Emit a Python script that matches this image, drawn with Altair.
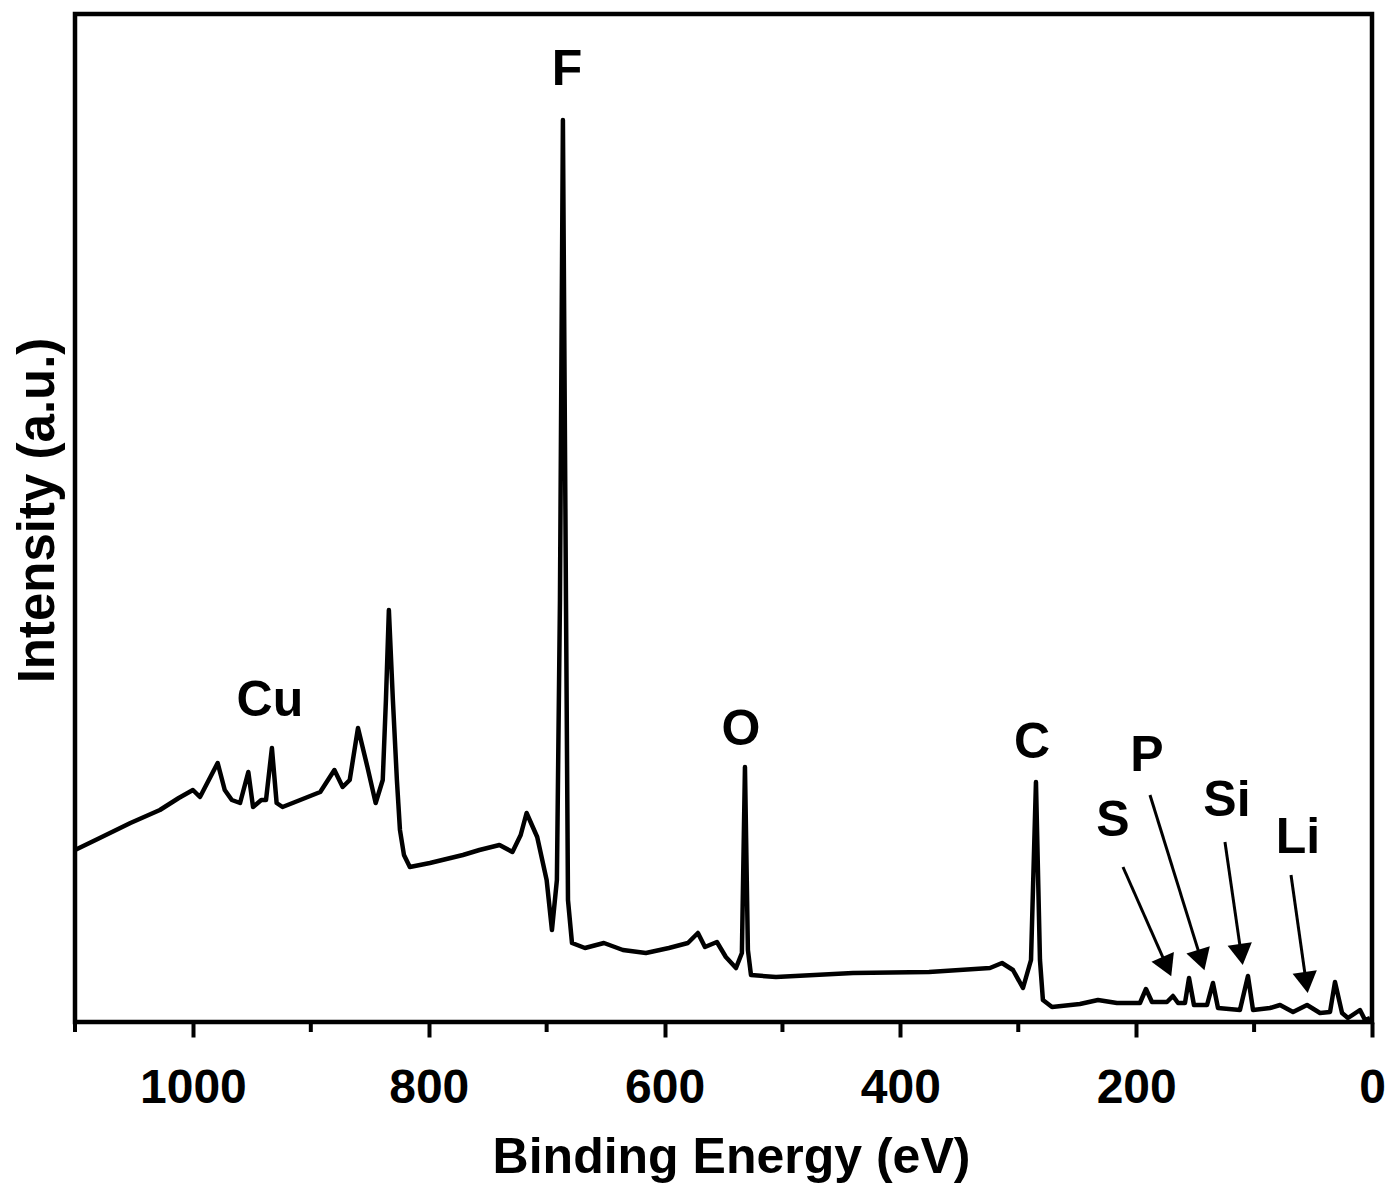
import altair as alt
import pandas as pd

# XPS survey spectrum (binding energy in eV, intensity in a.u.)
energy = [1100, 1079, 1053, 1028, 1012, 1000, 994, 979, 973, 967, 960, 953, 949, 942, 938, 933, 929, 924,
          909, 892, 880, 873, 867, 860, 852, 845, 839, 836.3, 833.8, 830.4, 827, 824.4, 821, 816, 799, 771,
          757, 740, 729, 722, 717, 708, 700, 695.5, 691.3, 688.7, 686.2, 683.6, 681.9, 678.5, 667.5, 651.4,
          635.3, 615.8, 596.3, 580.2, 571.7, 565.7, 555.6, 548, 539.4, 534.4, 531.8, 529.3, 526.7, 505.5,
          440.2, 375.7, 324, 313.8, 304.5, 296, 289.2, 285, 281.6, 279.1, 271.4, 247.7, 232.4, 216.3, 196.8,
          191.7, 186.6, 173.9, 168.8, 164.5, 158.6, 155.2, 151, 139.9, 134.9, 130.6, 112, 105.2, 100.9, 86.5,
          78, 67, 55.1, 44.1, 35.6, 31.4, 25.4, 20.4, 10.2, 5.9, 1.7]
intensity = [172, 184, 199, 212, 224, 232, 225, 259, 232, 222, 219, 250, 215, 222, 222, 274, 219, 215,
             222, 230, 252, 235, 242, 294, 255, 219, 242, 322, 412, 322, 242, 192, 167, 155, 159, 167,
             172, 177, 170, 187, 209, 185, 142, 92, 142, 422, 902, 422, 122, 79, 74, 79,
             72, 69, 74, 79, 89, 75, 80, 65, 54, 69, 255, 72, 47, 45,
             49, 50, 54, 59, 52, 34, 62, 240, 62, 22, 15, 18, 22, 19, 19,
             33, 20, 20, 26, 19, 19, 44, 17, 17, 39, 14, 12, 46, 12, 14,
             17, 10, 17, 9, 10, 40, 9, 4, 12, 2, 4]

# element labels
label_text = ["F", "Cu", "O", "C", "S", "P", "Si", "Li"]
label_energy = [682.8, 934.7, 535.2, 288.4, 219.7, 190.8, 123.0, 62.8]
label_intensity = [952, 321, 292, 279, 201, 266, 221, 184]

# arrows for the minor elements
arrow_start_energy = [211.2, 188.3, 124.7, 68.7]
arrow_start_intensity = [155, 227, 180, 147]
arrow_end_energy = [173.9, 144.8, 110.9, 55.8]
arrow_end_intensity = [55.4, 61.9, 67.4, 39.4]
arrow_angle = [156.2, 162.7, 171.8, 171.9]

major_ticks = [1000, 800, 600, 400, 200, 0]
minor_ticks = [1100, 900, 700, 500, 300, 100]

FONT = "Liberation Sans"

spec = pd.DataFrame({"E": energy, "I": intensity})
labels = pd.DataFrame({"t": label_text, "E": label_energy, "I": label_intensity})
arrows = pd.DataFrame({"E": arrow_start_energy, "I": arrow_start_intensity,
                       "E2": arrow_end_energy, "I2": arrow_end_intensity, "ang": arrow_angle})
minor = pd.DataFrame({"E": minor_ticks})

xscale = alt.Scale(domain=[0, 1100], reverse=True, nice=False, zero=False)
yscale = alt.Scale(domain=[0, 1008], nice=False, zero=False)

xaxis = alt.Axis(values=major_ticks, format="d", title="Binding Energy (eV)", grid=False, domain=False,
                 tickSize=15, tickWidth=4, tickColor="black",
                 labelFont=FONT, labelFontSize=48, labelFontWeight="bold", labelColor="black",
                 labelPadding=27, labelFlush=False,
                 titleFont=FONT, titleFontSize=50, titleFontWeight="bold", titleColor="black",
                 titleBaseline="alphabetic", titleY=150, titleX=656, titleAlign="center")
yaxis = alt.Axis(title="Intensity (a.u.)", labels=False, ticks=False, domain=False, grid=False,
                 titleFont=FONT, titleFontSize=51, titleFontWeight="bold", titleColor="black",
                 titleBaseline="alphabetic", titleX=-22, titleY=496, titleAlign="center", titleAngle=270)

line = alt.Chart(spec).mark_line(color="black", strokeWidth=4.5, strokeJoin="round").encode(
    x=alt.X("E:Q", scale=xscale, axis=xaxis),
    y=alt.Y("I:Q", scale=yscale, axis=yaxis),
)

text = alt.Chart(labels).mark_text(font=FONT, fontSize=50, fontWeight="bold", color="black",
                                   baseline="middle", align="center").encode(
    x=alt.X("E:Q", scale=xscale), y=alt.Y("I:Q", scale=yscale), text="t:N")

shafts = alt.Chart(arrows).mark_rule(color="black", strokeWidth=3).encode(
    x=alt.X("E:Q", scale=xscale), y=alt.Y("I:Q", scale=yscale), x2="E2:Q", y2="I2:Q")

heads = alt.Chart(arrows).mark_point(shape="triangle-up", filled=True, color="black",
                                     size=600, opacity=1).encode(
    x=alt.X("E2:Q", scale=xscale), y=alt.Y("I2:Q", scale=yscale),
    angle=alt.Angle("ang:Q", scale=None))

minor_ticks_layer = alt.Chart(minor).mark_rule(color="black", strokeWidth=4).encode(
    x=alt.X("E:Q", scale=xscale), y=alt.value(1008), y2=alt.value(1018))

chart = alt.layer(line, minor_ticks_layer, shafts, heads, text).properties(
    width=1297, height=1008,
    autosize=alt.AutoSizeParams(type="none"),
    padding={"left": 67, "top": 6, "right": 20, "bottom": 170},
    background="white",
).configure_view(stroke="black", strokeWidth=4.5)

chart.save("out.html", embed_options={"renderer": "svg", "actions": False})
